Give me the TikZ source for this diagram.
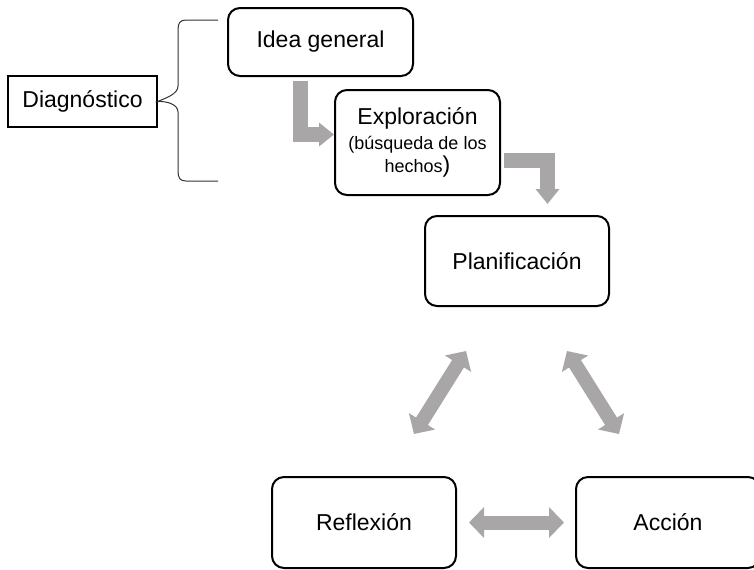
\documentclass[tikz,border=0pt]{standalone}
\usepackage{fontspec}
\setmainfont{Liberation Sans}
\usepackage{xcolor}
\usepackage{tikz}
\usetikzlibrary{arrows.meta}
\definecolor{arrowgray}{HTML}{A8A6A6}
\tikzstyle{stage} = [draw, line width=1pt, rounded corners=6pt, align=center, inner sep=2pt]
\tikzstyle{plainbox} = [draw, line width=0.6pt, inner sep=2pt]
\tikzstyle{bigarrow} = [draw=arrowgray, line width=7.5pt, -{Triangle[width=11.5pt,length=7.5pt]}]
\tikzstyle{dblarrow} = [draw=arrowgray, line width=7pt, {Triangle[width=15pt,length=7.5pt]}-{Triangle[width=15pt,length=7.5pt]}]

\begin{document}
\begin{tikzpicture}[x=0.5pt, y=-0.5pt, font=\fontsize{11.5}{13.5}\selectfont]
    \useasboundingbox (0,0) rectangle (754,569);

    \node[plainbox, minimum width=74.5pt, minimum height=25.5pt] (diag) at (82.5,101.5) {Diagnóstico};
    \node[stage, minimum width=92.5pt, minimum height=34pt] (idea) at (320.5,42) {Idea general};
    \node[stage, minimum width=82.5pt, minimum height=52.5pt] (explo) at (417.5,142.5)
        {Exploración\\[-1pt]{\fontsize{9}{10}\selectfont (búsqueda de los}\\[-2pt]{\fontsize{9}{10}\selectfont hechos})};
    \node[stage, minimum width=92pt, minimum height=45pt] (plan) at (517,261) {Planificación};
    \node[stage, minimum width=92pt, minimum height=45.5pt] (refl) at (364,522.5) {Reflexión};
    \node[stage, minimum width=92pt, minimum height=45.5pt] (accion) at (668,522.5) {Acción};

    % Brace
    \draw[line width=0.5pt, black!80] (218,20) -- (186,20)
        .. controls (180,20) and (178,23) .. (178,30) -- (178,86)
        .. controls (178,94) and (166,98) .. (diag.east)
        .. controls (166,101) and (178,104) .. (178,112) -- (178,171)
        .. controls (178,178) and (180,181) .. (186,181) -- (218,181);

    % Flow
    \draw[bigarrow] ([yshift=-2pt]idea.south -| 300,0) |- ([yshift=4pt]explo.west);
    \draw[bigarrow] ([xshift=1.5pt,yshift=-8.75pt]explo.east) -| ([xshift=15.25pt,yshift=5.5pt]plan.north);

    % Cycle
    \coordinate (pl) at (466,351);
    \coordinate (rl) at (414,434);
    \coordinate (pr) at (567,351);
    \coordinate (ar) at (619,434);
    \draw[dblarrow] (rl) -- (pl);
    \draw[dblarrow] (pr) -- (ar);
    \draw[dblarrow] ([xshift=6pt]refl.east) -- ([xshift=-5.5pt]accion.west);
\end{tikzpicture}
\end{document}
